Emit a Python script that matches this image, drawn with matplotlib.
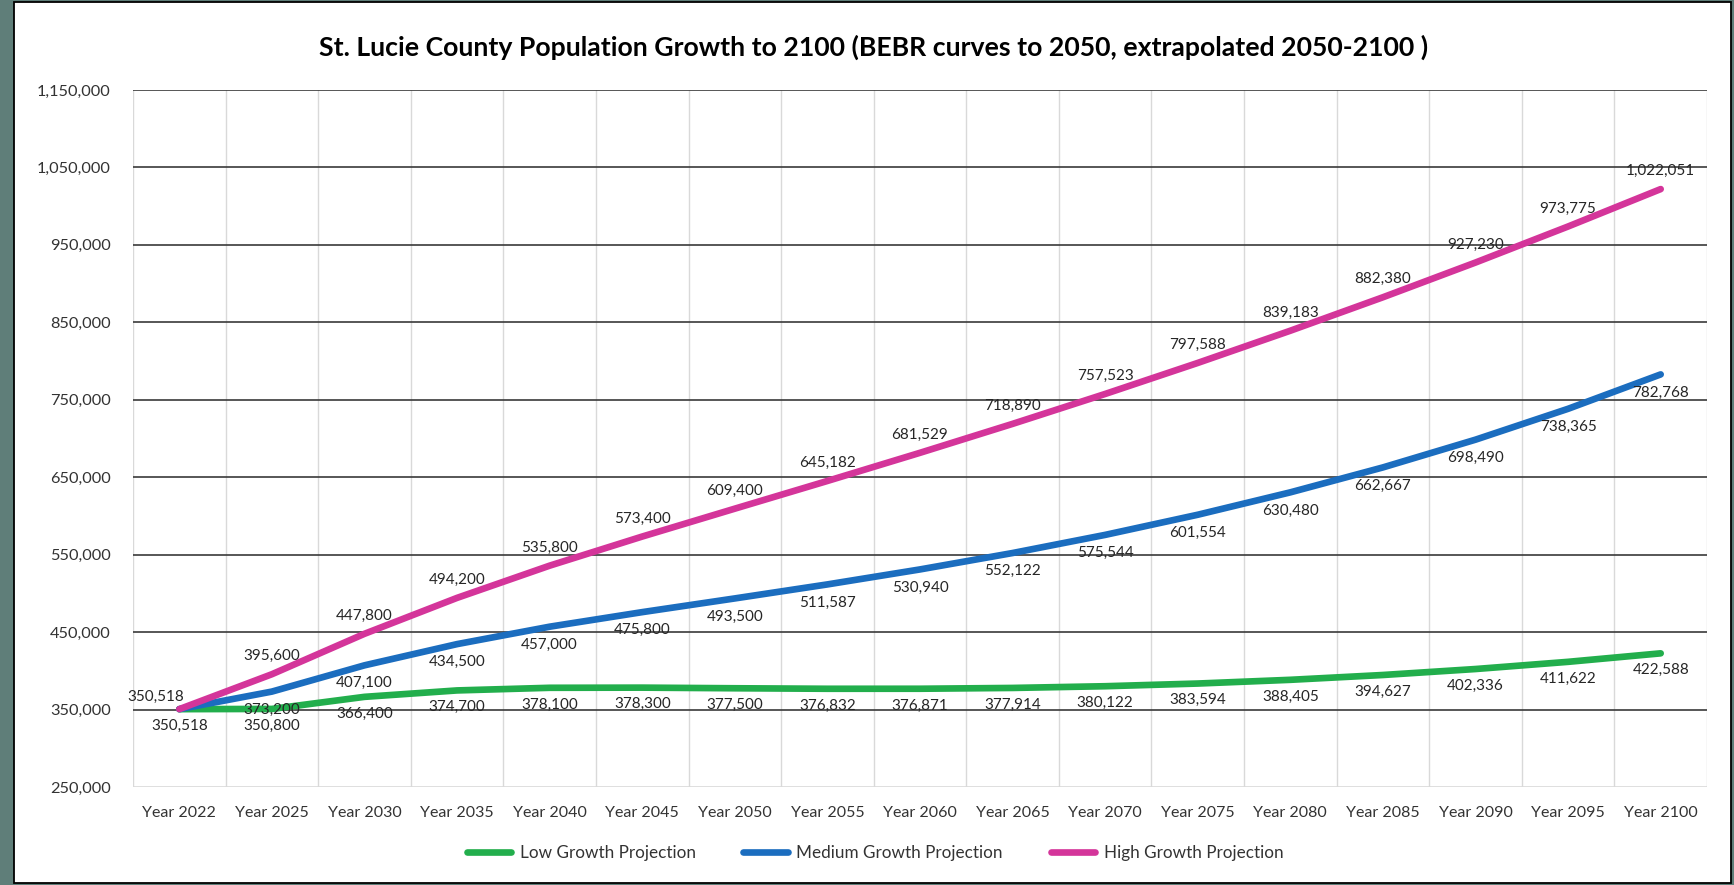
import matplotlib
matplotlib.use("Agg")
import matplotlib.pyplot as plt
from matplotlib.patches import Rectangle
from matplotlib.ticker import FixedLocator, FuncFormatter

plt.rcParams['font.family'] = ['Lato', 'DejaVu Sans']

years = [2022, 2025, 2030, 2035, 2040, 2045, 2050, 2055, 2060,
         2065, 2070, 2075, 2080, 2085, 2090, 2095, 2100]
categories = [f"Year {y}" for y in years]

low = [350518, 350800, 366400, 374700, 378100, 378300, 377500, 376832, 376871,
       377914, 380122, 383594, 388405, 394627, 402336, 411622, 422588]
medium = [350518, 373200, 407100, 434500, 457000, 475800, 493500, 511587, 530940,
          552122, 575544, 601554, 630480, 662667, 698490, 738365, 782768]
high = [350518, 395600, 447800, 494200, 535800, 573400, 609400, 645182, 681529,
        718890, 757523, 797588, 839183, 882380, 927230, 973775, 1022051]

FRAME = '#5F7E79'
GREEN = '#22AE4C'
BLUE = '#1B6DBF'
PINK = '#D4359A'
LABEL = '#262626'

fig = plt.figure(figsize=(17.34, 8.85), dpi=100, facecolor=FRAME)
fig.patches.append(Rectangle((14 / 1734, 2 / 885), 1717 / 1734, 881 / 885,
                             transform=fig.transFigure, facecolor='white',
                             edgecolor='black', linewidth=1.3, zorder=-10))

ax = fig.add_axes([133 / 1734, 1 - 787 / 885, 1574 / 1734, 697 / 885])
ax.set_facecolor('none')

x = list(range(len(years)))
series = [("Low Growth Projection", low, GREEN, -12),
          ("Medium Growth Projection", medium, BLUE, -13),
          ("High Growth Projection", high, PINK, 13)]

for name, vals, col, dy in series:
    ax.plot(x, vals, color=col, lw=4.8, solid_capstyle='round', label=name, zorder=3)

# data labels
for name, vals, col, dy in series:
    for i, v in enumerate(vals):
        if i == 0:
            if name.startswith("Medium"):
                continue
            if name.startswith("High"):
                ax.annotate(f"{v:,}", (i, v), xytext=(-17, 9), textcoords='offset points',
                            ha='center', va='center', fontsize=11, color=LABEL, zorder=5)
                continue
        ax.annotate(f"{v:,}", (i, v), xytext=(0, dy), textcoords='offset points',
                    ha='center', va='center', fontsize=11, color=LABEL, zorder=5)

ax.set_xlim(-0.5, len(years) - 0.5)
ax.set_ylim(250000, 1150000)
ax.yaxis.set_major_locator(FixedLocator(range(250000, 1150001, 100000)))
ax.yaxis.set_major_formatter(FuncFormatter(lambda v, p: f"{v:,.0f}"))
ax.set_xticks(x)
ax.set_xticklabels(categories)
ax.xaxis.set_minor_locator(FixedLocator([i - 0.5 for i in range(len(years) + 1)]))

ax.tick_params(axis='both', which='both', length=0)
ax.tick_params(axis='y', pad=16, labelsize=11.8, labelcolor='#333333')
ax.tick_params(axis='x', pad=14, labelsize=11.5, labelcolor='#333333')

ax.grid(axis='y', which='major', color='#3a3a3a', lw=1.2, zorder=1)
ax.grid(axis='x', which='minor', color='#d9d9d9', lw=1.0, zorder=0)
ax.get_ygridlines()[0].set_visible(False)
for s in ax.spines.values():
    s.set_visible(False)
ax.axhline(250000, color='#d9d9d9', lw=1.2, zorder=1)

fig.text(874 / 1734, 1 - 47 / 885,
         "St. Lucie County Population Growth to 2100 (BEBR curves to 2050, extrapolated 2050-2100 )",
         ha='center', va='center', fontsize=19.2, fontweight='bold', color='black')

fig.legend(loc='center', bbox_to_anchor=(875 / 1734, 1 - 853 / 885), ncol=3,
           frameon=False, fontsize=12.3, handlelength=2.6, handletextpad=0.5,
           columnspacing=2.8, labelcolor='#333333')

fig.savefig('out.png', dpi=100, facecolor=FRAME)
